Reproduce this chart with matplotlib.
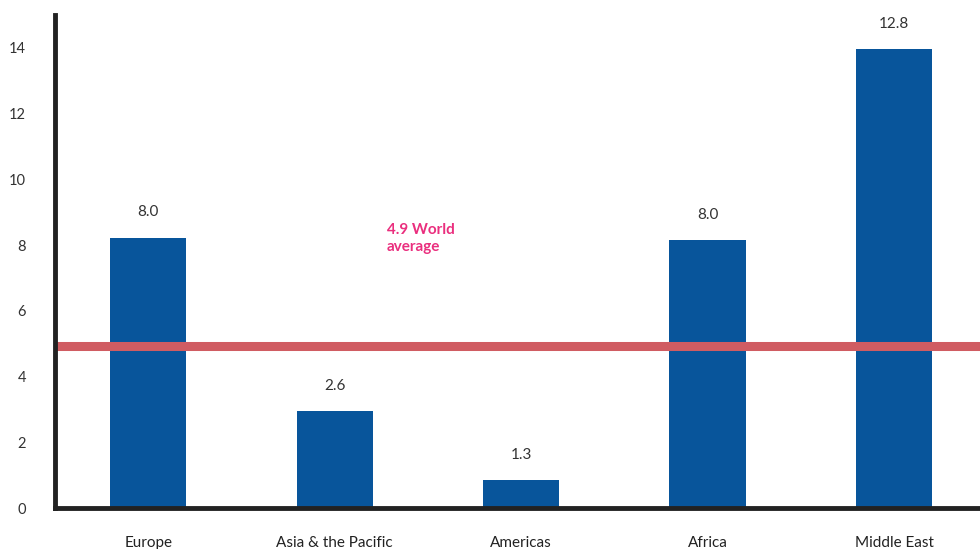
import matplotlib
matplotlib.use("Agg")
import matplotlib.pyplot as plt

# data
regions = ['Europe', 'Asia & the Pacific', 'Americas', 'Africa', 'Middle East']
bar_heights = [8.23, 2.95, 0.85, 8.14, 13.97]
value_labels = ['8.0', '2.6', '1.3', '8.0', '12.8']
world_avg = 4.92
world_avg_label = '4.9 World\naverage'
y_ticks = [0, 2, 4, 6, 8, 10, 12, 14]

plt.rcParams['font.family'] = ['Lato', 'DejaVu Sans']

fig = plt.figure(figsize=(9.8, 5.49), dpi=100)
ax = fig.add_axes([55 / 980, 41 / 549, 925 / 980, 493 / 549])

x = list(range(len(regions)))
ax.bar(x, bar_heights, width=0.41, color='#08559b', zorder=2)

# world average line across the whole plot
ax.axhline(world_avg, color='#d05c62', linewidth=6.5, zorder=3)
ax.text(1.28, 8.68, world_avg_label, color='#ea2f7e', fontsize=11,
        fontweight='bold', ha='left', va='top', linespacing=1.3)

# value labels above bars
for xi, h, lab in zip(x, bar_heights, value_labels):
    ax.annotate(lab, (xi, h), xytext=(0, 13), textcoords='offset points',
                ha='center', va='bottom', fontsize=11, color='#333333')

ax.set_xlim(-0.5, 4.46)
ax.set_ylim(0, 15)
ax.set_yticks(y_ticks)
ax.set_yticklabels([str(t) for t in y_ticks], fontsize=10.5, color='#333333')
ax.set_xticks(x)
ax.set_xticklabels(regions, fontsize=11, color='#222222')
ax.tick_params(axis='both', length=0)
ax.tick_params(axis='y', pad=21)
ax.tick_params(axis='x', pad=20)

for side in ['top', 'right']:
    ax.spines[side].set_visible(False)
for side in ['left', 'bottom']:
    ax.spines[side].set_linewidth(3.5)
    ax.spines[side].set_color('#222222')
    ax.spines[side].set_zorder(4)

fig.savefig('out.png', dpi=100)
